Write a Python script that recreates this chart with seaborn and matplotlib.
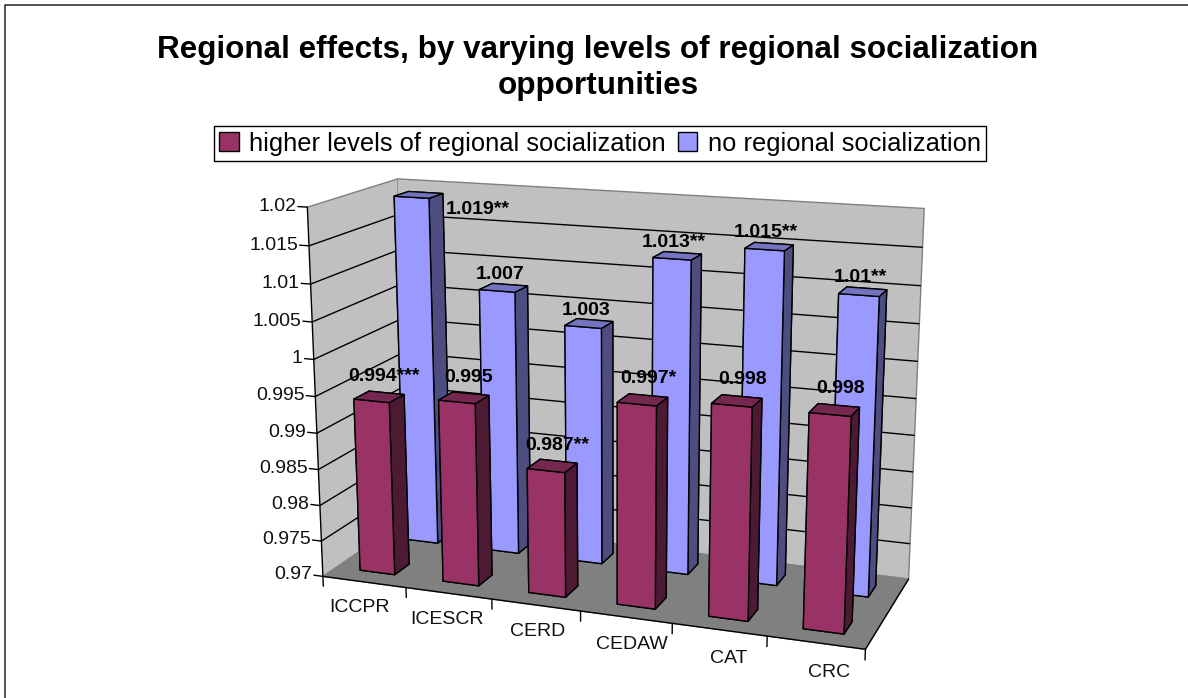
# Regional effects chart, drawn as an Excel style 3D column chart
import seaborn as sns
import matplotlib.pyplot as plt
from matplotlib.patches import Patch
from matplotlib.lines import Line2D
from mpl_toolkits.mplot3d import proj3d

# ------------------------------------------------------------
# Data
# ------------------------------------------------------------
categories = ["ICCPR", "ICESCR", "CERD", "CEDAW", "CAT", "CRC"]
higher_values = [0.994, 0.995, 0.987, 0.997, 0.998, 0.998]
none_values = [1.019, 1.007, 1.003, 1.013, 1.015, 1.01]
higher_labels = ["0.994***", "0.995", "0.987**", "0.997*", "0.998", "0.998"]
none_labels = ["1.019**", "1.007", "1.003", "1.013**", "1.015**", "1.01**"]
z_ticks = [0.97, 0.975, 0.98, 0.985, 0.99, 0.995, 1, 1.005, 1.01, 1.015, 1.02]
z_tick_labels = ["0.97", "0.975", "0.98", "0.985", "0.99", "0.995", "1",
                 "1.005", "1.01", "1.015", "1.02"]
series_names = ["higher levels of regional socialization", "no regional socialization"]

# bottom, top, front, back, left, right shades for each series
higher_colors = ["#4d1a33", "#75284f", "#993366", "#4d1a33", "#4d1a33", "#4d1a33"]
none_colors = ["#4d4d80", "#7373c0", "#9999FF", "#4d4d80", "#4d4d80", "#4d4d80"]

sns.set_theme(style="ticks")
plt.rcParams["font.family"] = ["Liberation Sans", "DejaVu Sans"]

fig = plt.figure(figsize=(11.88, 6.98), dpi=100)
ax = fig.add_axes([0.1305, -0.042, 0.76, 0.92], projection="3d", computed_zorder=False)

BASE = z_ticks[0]
WIDTH = 0.42
DEPTH = 0.34

ax.set_xlim(0, 6)
ax.set_ylim(0, 2)
ax.set_zlim(BASE, z_ticks[-1])
ax.view_init(elev=15, azim=-70)
ax.set_proj_type("persp", focal_length=0.55)
ax.set_box_aspect((6.3, 2.2, 4.25), zoom=1.077)


def draw_bars(values, y_pos, colors, order):
    xs = [i + (1 - WIDTH) / 2 for i in range(len(values))]
    bars = ax.bar3d(xs, [y_pos] * len(values), [BASE] * len(values),
                    WIDTH, DEPTH, [v - BASE for v in values],
                    color=colors * len(values), shade=False,
                    edgecolor="black", linewidth=1.0, zorder=order)
    bars.set_clip_on(False)


def label_at(x, y, z, text, **kwargs):
    # place a flat text at the projected spot of a 3D point
    px, py, _ = proj3d.proj_transform(x, y, z, ax.get_proj())
    ax.text2D(px, py, text, transform=ax.transData, va="center", zorder=5, **kwargs)


draw_bars(none_values, 1.35, none_colors, 2)
draw_bars(higher_values, 0.3, higher_colors, 3)

for i, (lab_a, lab_b) in enumerate(zip(higher_labels, none_labels)):
    label_at(i + 0.55, 0.5, higher_values[i] + 0.0027, lab_a, ha="center",
             fontsize=14, fontweight="bold", color="black")
    # the first label sits to the right of its tall bar
    label_at(i + (1.22 if i == 0 else 0.47), 1.5,
             none_values[i] + (-0.0015 if i == 0 else 0.0018), lab_b, ha="center",
             fontsize=14, fontweight="bold", color="black")
    label_at(i + 0.8, -0.65, BASE, categories[i], ha="center", fontsize=14, color="#111111")

# value axis labels and tick marks, on the front edge of the left wall
for z, lab in zip(z_ticks, z_tick_labels):
    label_at(-0.13, 0, z, lab, ha="right", fontsize=14, color="#111111")
    ax.plot([-0.11, 0], [0, 0], [z, z], color="black", linewidth=1.0, zorder=4, clip_on=False)

# category tick marks hang straight down from the front edge
for x in range(len(categories) + 1):
    ax.plot([x, x], [0, 0], [BASE - 0.0014, BASE], color="black", linewidth=1.0, zorder=4, clip_on=False)

ax.set_xticks([])
ax.set_yticks([])
# the top line of the walls stays grey, so no grid line on the last tick
ax.set_zticks(z_ticks[1:-1])
ax.zaxis.set_tick_params(label1On=False, label2On=False)

# walls and floor
ax.xaxis.pane.set_facecolor("#C0C0C0")
ax.yaxis.pane.set_facecolor("#C0C0C0")
ax.zaxis.pane.set_facecolor("#808080")
for axis in (ax.xaxis, ax.yaxis, ax.zaxis):
    axis.pane.set_edgecolor("#808080")
    axis.pane.set_alpha(1)
    axis.line.set_color("black")
    axis.line.set_linewidth(1.0)
    axis.label.set_visible(False)
    axis._axinfo["tick"].update(inward_factor=0, outward_factor=0)
ax.grid(True)
ax.xaxis._axinfo["grid"].update(color=(0, 0, 0, 0))
ax.yaxis._axinfo["grid"].update(color=(0, 0, 0, 0))
ax.zaxis._axinfo["grid"].update(color="black", linewidth=1.0)
ax.zaxis.set_ticks_position("lower")

fig.text(598 / 1188, 1 - 68 / 698, "Regional effects, by varying levels of regional socialization\nopportunities",
         ha="center", va="center", fontsize=22.6, fontweight="bold", color="black",
         linespacing=1.22)

handles = [Patch(facecolor="#993366", edgecolor="black"), Patch(facecolor="#9999FF", edgecolor="black")]
leg = fig.legend(handles, series_names, loc="center", bbox_to_anchor=(600 / 1188, 1 - 143.5 / 698), ncol=2,
                 fontsize=18.4, frameon=True, fancybox=False, edgecolor="black", framealpha=1,
                 labelcolor="black", handlelength=0.75, handleheight=0.75, handletextpad=0.4,
                 columnspacing=0.5, borderpad=0.2, borderaxespad=0)
leg.get_frame().set_linewidth(1.0)

# outer chart border: only the top and left lines are in the crop
left, top = 5 / 1188, 1 - 5 / 698
fig.add_artist(Line2D([left, left, 1], [0, top, top], color="#333333", linewidth=1.2))

fig.savefig("out.png", dpi=100, facecolor="white")
